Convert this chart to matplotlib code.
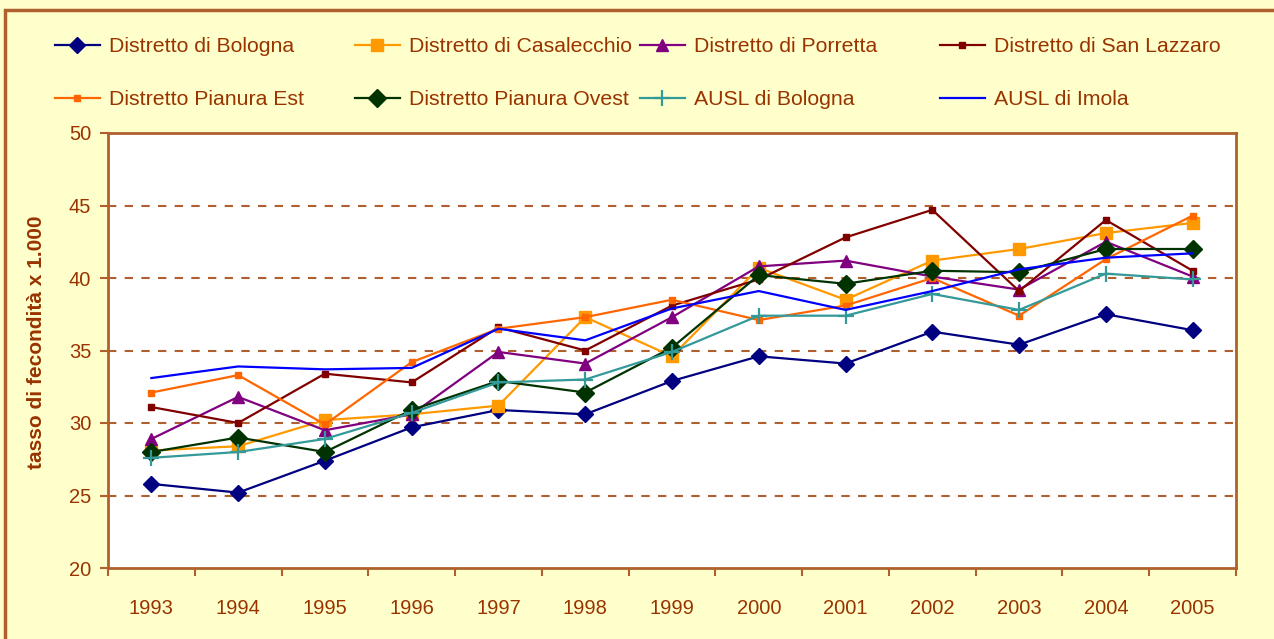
import numpy as np
import matplotlib.pyplot as plt
from matplotlib.patches import Rectangle
from matplotlib.ticker import FixedLocator

plt.rcParams["font.family"] = ["Liberation Sans", "DejaVu Sans"]

years = ["1993", "1994", "1995", "1996", "1997", "1998", "1999",
         "2000", "2001", "2002", "2003", "2004", "2005"]

bologna = [25.8, 25.2, 27.4, 29.7, 30.9, 30.6, 32.9, 34.6, 34.1, 36.3, 35.4, 37.5, 36.4]
casalecchio = [28.1, 28.4, 30.2, 30.6, 31.2, 37.3, 34.6, 40.7, 38.5, 41.2, 42.0, 43.1, 43.8]
porretta = [28.9, 31.8, 29.5, 30.6, 34.9, 34.1, 37.3, 40.8, 41.2, 40.1, 39.2, 42.5, 40.1]
san_lazzaro = [31.1, 30.0, 33.4, 32.8, 36.6, 35.0, 38.1, 39.9, 42.8, 44.7, 39.1, 44.0, 40.5]
pianura_est = [32.1, 33.3, 29.9, 34.2, 36.5, 37.3, 38.5, 37.1, 38.1, 40.0, 37.4, 41.3, 44.3]
pianura_ovest = [28.0, 29.0, 28.0, 30.9, 32.9, 32.1, 35.2, 40.2, 39.6, 40.5, 40.4, 42.0, 42.0]
ausl_bologna = [27.6, 28.0, 28.9, 30.7, 32.8, 33.0, 34.9, 37.4, 37.4, 38.9, 37.8, 40.3, 39.9]
ausl_imola = [33.1, 33.9, 33.7, 33.8, 36.5, 35.7, 37.9, 39.1, 37.8, 39.1, 40.6, 41.4, 41.7]

series = [
    ("Distretto di Bologna", bologna, "#000080", "D", 8),
    ("Distretto di Casalecchio", casalecchio, "#FF9900", "s", 9),
    ("Distretto di Porretta", porretta, "#800080", "^", 9),
    ("Distretto di San Lazzaro", san_lazzaro, "#800000", "s", 5),
    ("Distretto Pianura Est", pianura_est, "#FF6600", "s", 5),
    ("Distretto Pianura Ovest", pianura_ovest, "#003300", "D", 9),
    ("AUSL di Bologna", ausl_bologna, "#339999", "+", 11),
    ("AUSL di Imola", ausl_imola, "#0000FF", None, 0),
]

brown = "#B0602F"
text_brown = "#993300"
W, H = 1274, 639

fig = plt.figure(figsize=(W / 100, H / 100), dpi=100, facecolor="#FFFFCC")
ax = fig.add_axes([108 / W, 1 - 568 / H, (1236 - 108) / W, (568 - 133) / H])
ax.set_facecolor("white")

x = np.arange(len(years))
handles = []
for label, vals, color, marker, ms in series:
    (h,) = ax.plot(x, vals, color=color, lw=1.6, marker=marker, markersize=ms,
                   markeredgewidth=1.6 if marker == "+" else 1.0,
                   markeredgecolor=color, markerfacecolor=color, label=label,
                   zorder=3)
    handles.append(h)

ax.set_xlim(-0.5, len(years) - 0.5)
ax.set_ylim(20, 50)
ax.set_yticks(np.arange(20, 51, 5))
ax.set_xticks(x)
ax.set_xticklabels(years)
ax.xaxis.set_minor_locator(FixedLocator(np.arange(-0.5, len(years), 1.0)))

for yv in range(25, 50, 5):
    ax.axhline(yv, color=brown, lw=1.5, ls=(0, (4, 4)), zorder=1)

for sp in ax.spines.values():
    sp.set_color(brown)
    sp.set_linewidth(2)

ax.tick_params(axis="x", which="major", length=0, pad=22, labelsize=14.5,
               labelcolor=text_brown)
ax.tick_params(axis="x", which="minor", length=6, width=1.5, color=brown,
               direction="out")
ax.tick_params(axis="y", length=6, width=1.5, color=brown, direction="out",
               pad=6, labelsize=14.5, labelcolor=text_brown)

fig.text(37 / W, 1 - 342 / H, "tasso di fecondità x 1.000", rotation=90,
         ha="center", va="center", fontsize=15, fontweight="bold",
         color=text_brown)

# legend: four columns of two entries each, placed by hand
col_x = [55, 355, 640, 940]
for c in range(4):
    fig.legend(handles=[handles[c], handles[c + 4]], loc="upper left",
               bbox_to_anchor=(col_x[c] / W, 1 - 37 / H), frameon=False,
               fontsize=15.3, labelcolor=text_brown, handlelength=2.1,
               handletextpad=0.45, labelspacing=1.6, borderpad=0,
               borderaxespad=0)

# outer chart border
fig.patches.append(Rectangle((5 / W, -0.1), 1.2, 1 - 10 / H + 0.1,
                             transform=fig.transFigure, fill=False,
                             edgecolor=brown, lw=2.5))

fig.savefig("out.png", dpi=100, facecolor=fig.get_facecolor())
